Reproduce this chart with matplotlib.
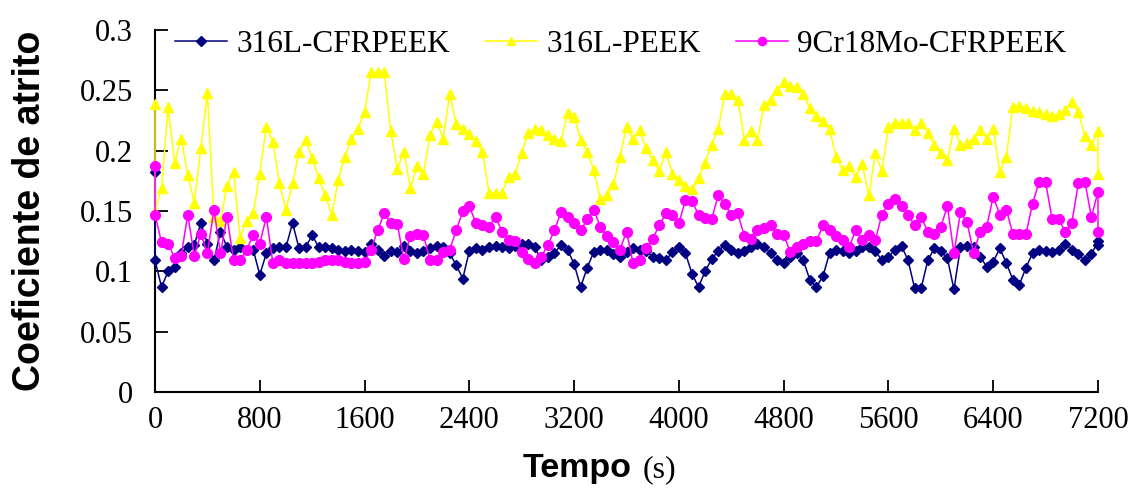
import matplotlib
matplotlib.use("Agg")
import matplotlib.pyplot as plt

# ---------------- data ----------------
time_s = [0] + list(range(0, 7201, 50)) + [7200]

cfrpeek_316l = [
    0.182,
    0.109, 0.087, 0.100, 0.104, 0.115, 0.120, 0.122, 0.140, 0.123, 0.109,
    0.133, 0.120, 0.118, 0.120, 0.118, 0.118, 0.097, 0.115, 0.119, 0.120,
    0.120, 0.140, 0.119, 0.120, 0.130, 0.120, 0.120, 0.119, 0.118, 0.117,
    0.118, 0.117, 0.116, 0.123, 0.118, 0.113, 0.117, 0.116, 0.121, 0.117,
    0.115, 0.117, 0.119, 0.121, 0.120, 0.115, 0.105, 0.094, 0.117, 0.119,
    0.118, 0.120, 0.121, 0.120, 0.119, 0.121, 0.123, 0.123, 0.120, 0.109,
    0.112, 0.115, 0.122, 0.118, 0.106, 0.087, 0.103, 0.116, 0.118, 0.118,
    0.114, 0.112, 0.116, 0.119, 0.118, 0.117, 0.112, 0.111, 0.109, 0.116,
    0.120, 0.115, 0.098, 0.087, 0.100, 0.110, 0.117, 0.122, 0.118, 0.115,
    0.117, 0.120, 0.123, 0.120, 0.115, 0.109, 0.107, 0.112, 0.115, 0.109,
    0.093, 0.087, 0.096, 0.115, 0.118, 0.117, 0.115, 0.117, 0.120, 0.120,
    0.117, 0.109, 0.112, 0.118, 0.121, 0.109, 0.086, 0.086, 0.109, 0.119,
    0.117, 0.111, 0.085, 0.120, 0.121, 0.120, 0.112, 0.104, 0.108, 0.119,
    0.107, 0.093, 0.089, 0.103, 0.115, 0.118, 0.117, 0.116, 0.118, 0.123,
    0.118, 0.114, 0.109, 0.114, 0.125,
    0.122,
]

peek_316l = [
    0.239,
    0.150, 0.169, 0.236, 0.190, 0.210, 0.180, 0.157, 0.202, 0.248, 0.145,
    0.142, 0.171, 0.182, 0.128, 0.142, 0.148, 0.181, 0.220, 0.207, 0.173,
    0.151, 0.173, 0.199, 0.209, 0.194, 0.177, 0.163, 0.147, 0.176, 0.195,
    0.210, 0.218, 0.232, 0.265, 0.265, 0.265, 0.216, 0.185, 0.199, 0.169,
    0.187, 0.181, 0.213, 0.224, 0.210, 0.247, 0.222, 0.218, 0.214, 0.208,
    0.199, 0.165, 0.165, 0.165, 0.178, 0.181, 0.198, 0.215, 0.218, 0.217,
    0.213, 0.210, 0.208, 0.231, 0.228, 0.209, 0.199, 0.184, 0.160, 0.163,
    0.172, 0.195, 0.220, 0.210, 0.217, 0.202, 0.192, 0.183, 0.199, 0.181,
    0.176, 0.171, 0.168, 0.177, 0.190, 0.205, 0.218, 0.247, 0.247, 0.242,
    0.209, 0.216, 0.209, 0.238, 0.242, 0.250, 0.257, 0.254, 0.253, 0.247,
    0.235, 0.229, 0.225, 0.218, 0.195, 0.184, 0.187, 0.178, 0.189, 0.163,
    0.198, 0.183, 0.220, 0.223, 0.223, 0.223, 0.217, 0.223, 0.215, 0.205,
    0.198, 0.192, 0.218, 0.205, 0.206, 0.210, 0.217, 0.210, 0.218, 0.182,
    0.195, 0.236, 0.237, 0.235, 0.233, 0.232, 0.230, 0.229, 0.230, 0.234,
    0.240, 0.232, 0.212, 0.205, 0.216,
    0.181,
]

cfrpeek_9cr18mo = [
    0.187,
    0.147, 0.124, 0.123, 0.111, 0.113, 0.147, 0.113, 0.131, 0.115, 0.151,
    0.115, 0.145, 0.109, 0.109, 0.118, 0.130, 0.123, 0.145, 0.107, 0.109,
    0.107, 0.107, 0.107, 0.107, 0.107, 0.108, 0.109, 0.109, 0.109, 0.108,
    0.107, 0.107, 0.108, 0.118, 0.134, 0.148, 0.140, 0.139, 0.110, 0.129,
    0.131, 0.130, 0.109, 0.109, 0.116, 0.118, 0.134, 0.150, 0.154, 0.140,
    0.138, 0.137, 0.145, 0.133, 0.126, 0.125, 0.116, 0.110, 0.107, 0.112,
    0.122, 0.134, 0.149, 0.145, 0.140, 0.134, 0.143, 0.151, 0.137, 0.129,
    0.124, 0.118, 0.133, 0.107, 0.109, 0.119, 0.127, 0.138, 0.148, 0.147,
    0.140, 0.159, 0.158, 0.147, 0.144, 0.143, 0.163, 0.156, 0.147, 0.148,
    0.129, 0.127, 0.134, 0.136, 0.138, 0.131, 0.130, 0.116, 0.120, 0.123,
    0.125, 0.125, 0.138, 0.134, 0.129, 0.126, 0.120, 0.134, 0.126, 0.130,
    0.126, 0.147, 0.156, 0.160, 0.154, 0.147, 0.138, 0.145, 0.133, 0.131,
    0.137, 0.154, 0.115, 0.149, 0.141, 0.115, 0.133, 0.137, 0.162, 0.147,
    0.151, 0.131, 0.131, 0.131, 0.156, 0.174, 0.174, 0.143, 0.143, 0.133,
    0.140, 0.173, 0.174, 0.145, 0.166,
    0.133,
]

series_labels = ["316L-CFRPEEK", "316L-PEEK", "9Cr18Mo-CFRPEEK"]
x_ticks = list(range(0, 7201, 800))
y_ticks = [0, 0.05, 0.1, 0.15, 0.2, 0.25, 0.3]
y_tick_labels = ["0", "0.05", "0.1", "0.15", "0.2", "0.25", "0.3"]

# ---------------- figure ----------------
W, H = 1135, 488
fig = plt.figure(figsize=(W / 100, H / 100), dpi=100)
ax = fig.add_axes([155 / W, 96 / H, 943 / W, 362 / H])

ax.plot(time_s, cfrpeek_316l, color="#000080", marker="D", ms=5.5, lw=1.1,
        label=series_labels[0], clip_on=False, zorder=3)
ax.plot(time_s, peek_316l, color="#FFFF00", marker="^", ms=7.5, lw=1.1,
        label=series_labels[1], clip_on=False, zorder=3)
ax.plot(time_s, cfrpeek_9cr18mo, color="#FF00FF", marker="o", ms=7, lw=1.1,
        label=series_labels[2], clip_on=False, zorder=3)

ax.set_xlim(0, 7200)
ax.set_ylim(0, 0.3)
for s in ["top", "right"]:
    ax.spines[s].set_visible(False)
for s in ["left", "bottom"]:
    ax.spines[s].set_linewidth(1.5)
    ax.spines[s].set_color("black")

ax.set_xticks(x_ticks)
ax.set_yticks(y_ticks, y_tick_labels)
ax.tick_params(direction="in", length=9, width=1.3, labelsize=22)
ax.tick_params(axis="x", pad=10)
ax.tick_params(axis="y", pad=16)
for lbl in ax.get_xticklabels() + ax.get_yticklabels():
    lbl.set_fontfamily("Liberation Serif")

leg = ax.legend(loc="center left", bbox_to_anchor=(20 / 943, (392 - 44) / 362),
                ncol=3, frameon=False, borderpad=0, borderaxespad=0,
                handlelength=1.66, handletextpad=0.32, columnspacing=1.1,
                prop={"family": "Liberation Serif", "size": 22.5}, markerscale=0.85)

fig.text(30 / W, 1 - 211 / H, "Coeficiente de atrito", rotation=90,
         ha="center", va="center", fontsize=27, fontweight="bold",
         family="Liberation Sans")
fig.text(632 / W, (H - 477) / H, "Tempo", ha="right", va="baseline",
         fontsize=24.5, fontweight="bold", family="Liberation Sans")
fig.text(643 / W, (H - 477) / H, "(s)", ha="left", va="baseline",
         fontsize=23, family="Liberation Serif")

fig.savefig("out.png", dpi=100)
